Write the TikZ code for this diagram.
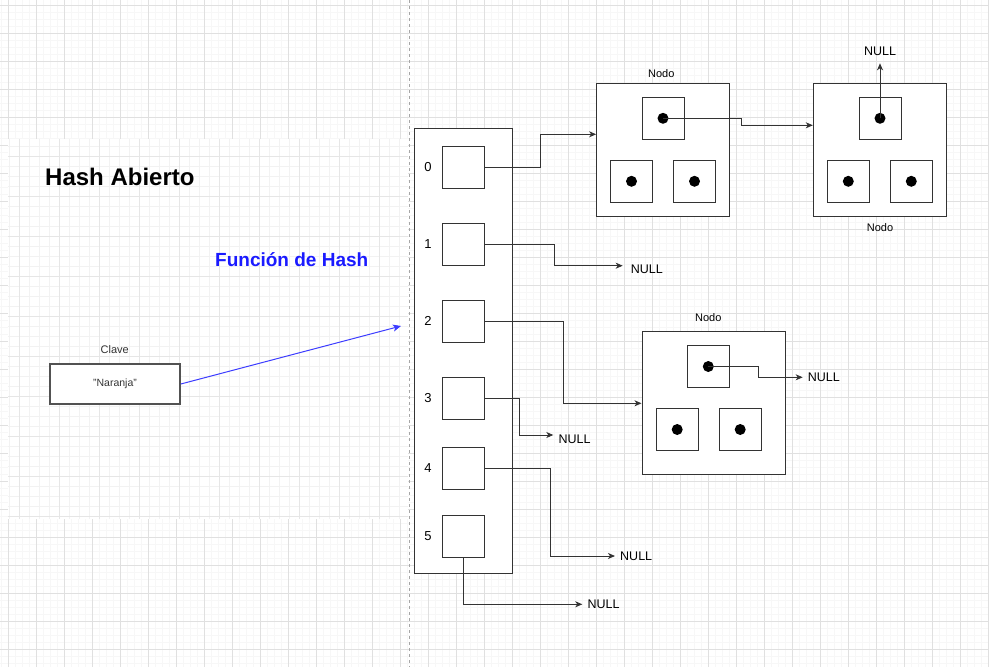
\documentclass[tikz,border=0pt]{standalone}
\usepackage{fontspec}
\setmainfont{Liberation Sans}
\usetikzlibrary{arrows.meta,calc}
\definecolor{ln}{HTML}{333333}
\definecolor{gmaj}{HTML}{E0E0E0}
\definecolor{gmin}{HTML}{F7F7F7}
\definecolor{pmaj}{HTML}{E6E6E6}
\definecolor{pmin}{HTML}{F2F2F2}
\definecolor{hashblue}{RGB}{26,26,255}
\definecolor{arrblue}{RGB}{60,60,255}
\begin{document}
\begin{tikzpicture}[x=1pt,y=-1pt,
  conn/.style={draw=ln, line width=0.9pt, -{Stealth[length=7pt,width=6pt,inset=2pt]}},
  box/.style={draw=ln, line width=1pt, fill=white, inner sep=0pt},
  cellbox/.style={box, minimum width=42pt, minimum height=42pt},
  dot/.style={circle, fill=black, minimum size=11pt, inner sep=0pt},
  nulltxt/.style={font=\fontsize{12.5}{14}\selectfont, inner ysep=0pt, inner xsep=5pt, anchor=west},
  nodolbl/.style={font=\fontsize{11}{13}\selectfont, inner sep=0pt},
  idx/.style={font=\fontsize{13}{15}\selectfont, inner sep=0pt}]
\useasboundingbox (0,0) rectangle (989,667);
\fill[white] (0,0) rectangle (989,667);
% page grid
\foreach \x in {1.7,8.7,...,989} \draw[gmin, line width=0.6pt] (\x,0) -- (\x,667);
\foreach \y in {5.3,12.3,...,667} \draw[gmin, line width=0.6pt] (0,\y) -- (989,\y);
\foreach \x in {8.7,36.7,...,989} \draw[gmaj, line width=0.9pt] (\x,0) -- (\x,667);
\foreach \y in {5.3,33.3,...,667} \draw[gmaj, line width=0.9pt] (0,\y) -- (989,\y);
% left panel
\fill[white] (8,139) rectangle (408,519);
\begin{scope}
\clip (8,139) rectangle (408,519);
\foreach \x in {9.3,19.3,...,408} \draw[pmin, line width=0.6pt] (\x,139) -- (\x,519);
\foreach \y in {146.7,156.7,...,519} \draw[pmin, line width=0.6pt] (8,\y) -- (408,\y);
\foreach \x in {19.3,59.3,...,408} \draw[pmaj, line width=0.9pt] (\x,139) -- (\x,519);
\foreach \y in {156.7,196.7,...,519} \draw[pmaj, line width=0.9pt] (8,\y) -- (408,\y);
\end{scope}
\draw[gray!70, line width=0.7pt, dash pattern=on 3pt off 3pt] (409.5,0) -- (409.5,667);

% titles
\node[font=\bfseries\fontsize{24}{28}\selectfont, anchor=base west, inner sep=0pt] (title) at (45,185.7) {Hash Abierto};
\node[font=\bfseries\fontsize{19}{22}\selectfont, text=hashblue, anchor=base west, inner sep=0pt] (fh) at (215,266.7) {Función de Hash};

% key
\node[font=\fontsize{11}{13}\selectfont, inner sep=0pt, text=ln] (clavelbl) at (114.7,350) {Clave};
\node[draw=ln!85, line width=1.6pt, fill=white, minimum width=130pt, minimum height=40pt, inner sep=0pt,
      font=\fontsize{10.5}{12}\selectfont, text=ln] (clave) at (115,384) {"Naranja"};
\coordinate (hashend) at (401,326);
\draw[arrblue, line width=1pt, -{Stealth[length=8pt,width=7pt,inset=2pt]}] (clave.east) -- (hashend);

% array
\node[box, minimum width=98pt, minimum height=445.3pt] (arr) at (463.3,350.65) {};
\foreach \i/\y in {0/167.3,1/244.3,2/321.3,3/398.3,4/468.3,5/536.3}{
  \node[cellbox] (c\i) at (463.3,\y) {};
  \node[idx] (l\i) at (428,\y) {\i};
}

% node 1
\node[box, minimum width=132.7pt, minimum height=132.7pt] (n1) at (663,149.65) {};
\node[nodolbl] (lb1) at (661.3,73.3) {Nodo};
\node[cellbox] (t1) at (663,118.3) {};
\node[cellbox] (a1) at (631.5,181.3) {};
\node[cellbox] (b1) at (694.5,181.3) {};
\node[dot] (d1) at (663,118.3) {};
\node[dot] (e1) at (631.5,181.3) {};
\node[dot] (f1) at (694.5,181.3) {};

% node 2
\node[box, minimum width=133pt, minimum height=132.7pt] (n2) at (879.8,149.65) {};
\node[nodolbl] (lb2) at (880,227.3) {Nodo};
\node[cellbox] (t2) at (880,118.3) {};
\node[cellbox] (a2) at (848.3,181.3) {};
\node[cellbox] (b2) at (911.3,181.3) {};
\node[dot] (d2) at (880,118.3) {};
\node[dot] (e2) at (848.3,181.3) {};
\node[dot] (f2) at (911.3,181.3) {};

% node 3
\node[box, minimum width=143.3pt, minimum height=143.3pt] (n3) at (713.65,403.3) {};
\node[nodolbl] (lb3) at (708.3,318) {Nodo};
\node[cellbox] (t3) at (708.3,366.5) {};
\node[cellbox] (a3) at (677.2,429.5) {};
\node[cellbox] (b3) at (740.2,429.5) {};
\node[dot] (d3) at (708.3,366.5) {};
\node[dot] (e3) at (677.2,429.5) {};
\node[dot] (f3) at (740.2,429.5) {};

% NULL labels
\node[nulltxt, anchor=south, inner ysep=7pt, inner xsep=0pt] (null0) at (880,63.3) {NULL};
\node[nulltxt, inner xsep=8pt, text height=15pt, text depth=0pt] (null1) at (622.7,265.7) {NULL};
\node[nulltxt, text height=17pt, text depth=0pt] (null3) at (553.3,435) {NULL};
\node[nulltxt] (null4) at (615,556) {NULL};
\node[nulltxt] (null5) at (582.3,604.3) {NULL};
\node[nulltxt] (nullN) at (802.7,377.3) {NULL};

% connectors
\coordinate (n1in) at (n1.west |- 0,134.3);
\coordinate (n2in) at (n2.west |- 0,125.3);
\coordinate (n3in) at (n3.west |- 0,403.3);
\draw[conn] (c0.east) -- ++(56,0) |- (n1in);
\draw[conn] (c1.east) -- ++(70,0) |- (null1.west);
\draw[conn] (c2.east) -- ++(79,0) |- (n3in);
\draw[conn] (c3.east) -- ++(35,0) |- (null3.west);
\draw[conn] (c4.east) -- ++(65.7,0) |- (null4.west);
\draw[conn] (c5.south) |- (null5.west);
\draw[conn] (d1.center) -- ++(78,0) |- (n2in);
\draw[conn] (d2.center) -- (null0.south);
\draw[conn] (d3.center) -- ++(50,0) |- (nullN.west);
\end{tikzpicture}
\end{document}
